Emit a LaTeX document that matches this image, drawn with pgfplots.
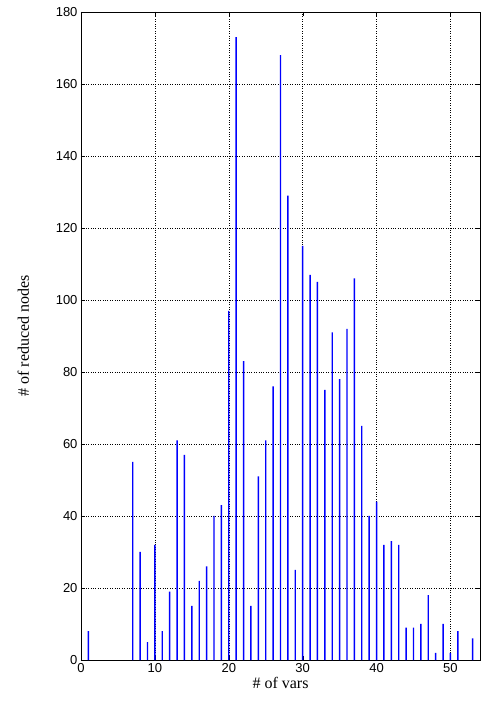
\documentclass[border=0pt]{standalone}
\usepackage{pgfplots}
\pgfplotsset{compat=1.18}
\usepackage{fontspec}
\setmainfont{Liberation Serif}
\setsansfont{Liberation Sans}
\begin{document}
\begin{tikzpicture}
\begin{axis}[name=ax, scale only axis, width=399pt, height=648pt,
  xmin=0, xmax=54, ymin=0, ymax=180,
  xtick={0,10,...,50}, ytick={0,20,...,180},
  grid=major, grid style={black, dotted},
  tick align=inside, tick style={black},
  ticklabel style={font=\sffamily\fontsize{13}{15}\selectfont},
  /pgf/number format/assume math mode=true,
  xlabel={\# of vars}, ylabel={\# of reduced nodes},
  label style={font=\fontsize{16}{18}\selectfont},
  xlabel style={yshift=2pt}, ylabel style={yshift=20pt},
  axis line style={black, line width=0.8pt}]
\addplot[ybar, bar width=1.4pt, fill=blue, draw=none, bar shift=0pt] coordinates {
(1,8)(7,55)(8,30)(9,5)(10,32)(11,8)(12,19)(13,61)(14,57)(15,15)(16,22)(17,26)(18,40)(19,43)(20,97)(21,173)(22,83)(23,15)(24,51)(25,61)(26,76)(27,168)(28,129)(29,25)(30,115)(31,107)(32,105)(33,75)(34,91)(35,78)(36,92)(37,106)(38,65)(39,40)(40,44)(41,32)(42,33)(43,32)(44,9)(45,9)(46,10)(47,18)(48,2)(49,10)(50,2)(51,8)(53,6)};
\end{axis}
\pgfresetboundingbox
\path ([xshift=-81pt,yshift=-45pt]ax.south west) rectangle ([xshift=1pt,yshift=12pt]ax.north east);
\end{tikzpicture}
\end{document}
